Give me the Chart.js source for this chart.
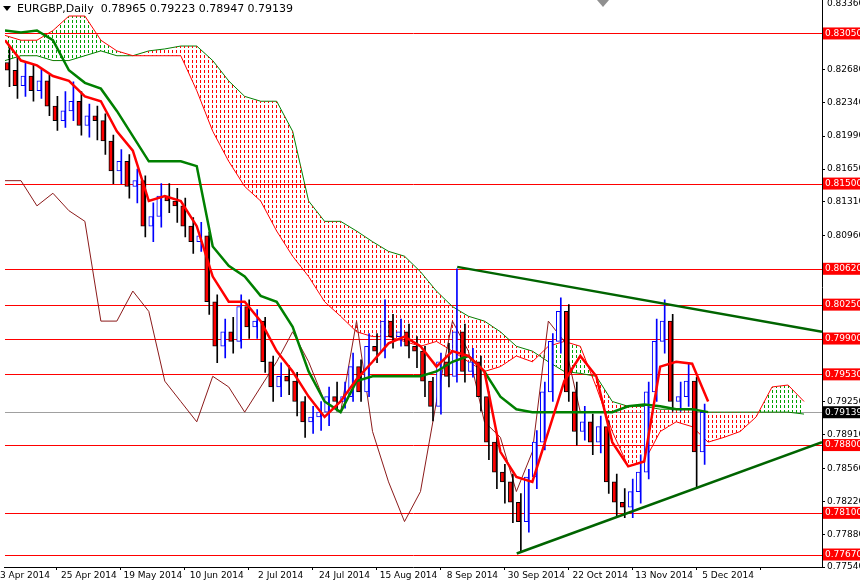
<!DOCTYPE html>
<html>
<head>
<meta charset="utf-8">
<script src="https://cdn.jsdelivr.net/npm/chart.js@4.4.1/dist/chart.umd.min.js"></script>
<style>
  html, body { margin: 0; padding: 0; background: #fff; }
  #wrap { width: 860px; height: 585px; }
</style>
</head>
<body>
<div id="wrap"><canvas id="chart" width="860" height="585"></canvas></div>
<script>
// EURGBP daily, candles every 2nd bar starting at bar -4 (bar 0 = 3 Apr 2014)
const opens = [.8275,.8267,.8251,.8261,.8246,.8256,.8230,.8215,.8225,.8235,.8210,.8220,.8215,.8194,.8163,.8173,.8147,.8153,.8106,.8116,.8137,.8132,.8127,.8106,.8090,.8096,.8028,.7982,.7997,.7987,.8023,.8002,.8008,.7966,.7940,.7951,.7946,.7925,.7904,.7909,.7914,.7930,.7925,.7930,.7961,.7935,.7982,.7977,.8008,.7992,.7997,.7982,.7977,.7946,.7920,.7966,.7951,.7997,.7956,.7966,.7930,.7883,.7852,.7842,.7821,.7801,.7847,.7883,.7935,.7987,.8018,.7935,.7894,.7904,.7883,.7899,.7842,.7821,.7816,.7832,.7852,.7935,.7987,.8008,.7925,.7930,.7946,.7873];
const closes = [.8267,.8251,.8261,.8246,.8256,.8230,.8215,.8225,.8235,.8210,.8220,.8215,.8194,.8163,.8173,.8147,.8153,.8106,.8116,.8137,.8132,.8127,.8106,.8090,.8096,.8028,.7982,.7997,.7987,.8023,.8002,.8008,.7966,.7940,.7951,.7946,.7925,.7904,.7909,.7914,.7930,.7925,.7930,.7961,.7935,.7982,.7977,.8008,.7992,.7997,.7982,.7977,.7946,.7920,.7966,.7951,.7997,.7956,.7966,.7930,.7883,.7852,.7842,.7821,.7801,.7847,.7883,.7935,.7987,.8018,.7935,.7894,.7904,.7883,.7899,.7842,.7821,.7816,.7832,.7852,.7935,.7987,.8008,.7925,.7930,.7946,.7873,.79139];
const highs = [.8290,.8280,.8275,.8272,.8268,.8262,.8240,.8245,.8255,.8245,.8232,.8230,.8222,.8200,.8185,.8180,.8165,.8158,.8130,.8150,.8150,.8145,.8135,.8115,.8110,.8100,.8035,.8010,.8012,.8035,.8030,.8020,.8012,.7972,.7965,.7962,.7955,.7930,.7920,.7925,.7940,.7945,.7945,.7975,.7968,.7995,.7995,.8030,.8015,.8010,.8005,.7992,.7982,.7950,.7975,.7985,.8062,.8005,.7980,.7972,.7935,.7890,.7860,.7850,.7830,.7855,.7895,.7945,.7995,.8032,.8025,.7945,.7920,.7912,.7910,.7905,.7850,.7835,.7845,.7870,.7945,.8010,.8030,.8015,.7945,.7965,.7950,.79223];
const lows = [.8250,.8238,.8240,.8235,.8238,.8220,.8205,.8208,.8215,.8200,.8198,.8195,.8180,.8150,.8150,.8135,.8130,.8095,.8090,.8105,.8120,.8110,.8095,.8078,.8080,.8015,.7965,.7970,.7975,.7980,.7990,.7990,.7955,.7925,.7930,.7932,.7910,.7888,.7892,.7895,.7900,.7915,.7918,.7925,.7925,.7930,.7965,.7970,.7980,.7982,.7970,.7960,.7930,.7905,.7912,.7940,.7945,.7945,.7950,.7915,.7865,.7835,.7820,.7800,.7770,.7790,.7835,.7875,.7925,.7975,.7925,.7880,.7885,.7870,.7872,.7830,.7805,.7805,.7805,.7820,.7845,.7925,.7975,.7915,.7915,.7920,.7835,.7860];

// Lines sampled every 4 bars starting at bar -5
const tenkan = [.8298,.8277,.8272,.8261,.8256,.8240,.8235,.8204,.8184,.8132,.8137,.8132,.8106,.8054,.8028,.8028,.8008,.7977,.7956,.7930,.7909,.7925,.7948,.7966,.7985,.7992,.7982,.7961,.7977,.7972,.7956,.7873,.7847,.7842,.7894,.7946,.7972,.7951,.7883,.7858,.7863,.7961,.7966,.7964,.7925];
const kijun = [.8308,.8306,.8308,.8298,.8267,.8254,.8248,.8225,.8199,.8173,.8173,.8173,.8168,.8085,.8065,.8054,.8034,.8028,.8002,.7956,.7925,.7914,.7946,.7951,.7951,.7951,.7951,.7956,.7966,.7972,.7956,.7930,.7917,.7914,.7914,.7914,.7914,.7914,.7914,.7920,.7922,.7920,.7917,.7917,.7914];
const chikou = [.8153,.8153,.8127,.8140,.8122,.8111,.8008,.8008,.8039,.8018,.7946,.7925,.7904,.7951,.7940,.7914,.7940,.7966,.7997,.7966,.7925,.7914,.8008,.7894,.7842,.7801,.7832,.7925,.8008,.7977,.7904,.7888,.7832,.7873,.8008,.7987,.7914,.7914];
const spanA = [.8303,.8298,.8298,.8308,.8323,.8323,.8298,.8287,.8282,.8282,.8282,.8282,.8246,.8204,.8173,.8147,.8132,.8101,.8075,.8054,.8028,.8013,.7997,.7992,.7992,.7987,.7982,.7987,.7977,.7966,.7956,.7961,.7972,.7966,.7982,.7987,.7982,.7940,.7894,.7858,.7863,.7894,.7904,.7899,.7883,.7888,.7894,.7909,.7940,.7942,.7925];
const spanB = [.8277,.8282,.8282,.8277,.8277,.8282,.8287,.8282,.8282,.8287,.8289,.8292,.8292,.8277,.8256,.8240,.8235,.8235,.8204,.8132,.8111,.8111,.8101,.8090,.8080,.8075,.8059,.8039,.8023,.8013,.8008,.7997,.7982,.7977,.7966,.7956,.7954,.7951,.7925,.7920,.7920,.7917,.7917,.7917,.7914,.7914,.7914,.7914,.7914,.7914,.7912];

// Trend lines [bar, price]
const upperTrend = [[108.2, .8064], [199.5, .7997]];
const lowerTrend = [[123.1, .7768], [199.5, .7883]];

const dateLabels = ['3 Apr 2014','25 Apr 2014','19 May 2014','10 Jun 2014','2 Jul 2014','24 Jul 2014','15 Aug 2014','8 Sep 2014','30 Sep 2014','22 Oct 2014','13 Nov 2014','5 Dec 2014'];
const priceTicks = [.8268,.8234,.8199,.8165,.8131,.8096,.7925,.7891,.7856,.7822,.7788,.7754];
const topPrice = .8336;
const levels = [.8305,.8150,.8062,.8025,.7990,.7953,.7880,.7810,.7767];
const lastPrice = .79139;

const candleBars = closes.map((c, k) => ({ x: -4 + 2 * k, y: [opens[k], c] }));
const wickBars = closes.map((c, k) => ({ x: -4 + 2 * k, y: [lows[k], highs[k]] }));
const every4 = (arr, start) => arr.map((v, k) => ({ x: start + 4 * k, y: v }));
const up = k => closes[k] >= opens[k];

function dotPattern(color) {
    const c = document.createElement('canvas');
    c.width = 4; c.height = 5;
    const g = c.getContext('2d');
    g.fillStyle = color;
    g.fillRect(0, 0, 1, 3);
    return g.createPattern(c, 'repeat');
}

const overlay = {
    id: 'overlay',
    beforeDatasetsDraw(chart) {
        const { ctx, chartArea: a, scales: { y } } = chart;
        ctx.save();
        ctx.lineWidth = 1;
        ctx.strokeStyle = '#ff0000';
        levels.forEach(l => {
            const py = Math.round(y.getPixelForValue(l)) + 0.5;
            ctx.beginPath(); ctx.moveTo(a.left, py); ctx.lineTo(a.right, py); ctx.stroke();
        });
        ctx.strokeStyle = '#a0a0a0';
        const lp = Math.round(y.getPixelForValue(lastPrice)) + 0.5;
        ctx.beginPath(); ctx.moveTo(a.left, lp); ctx.lineTo(a.right, lp); ctx.stroke();
        ctx.restore();
    },
    afterDraw(chart) {
        const { ctx, chartArea: a, scales: { y } } = chart;
        ctx.save();
        ctx.font = '9px "DejaVu Sans"';
        ctx.textBaseline = 'middle';
        ctx.fillStyle = '#000';
        ctx.fillText(topPrice.toFixed(5), a.right + 5, 4);
        ctx.fillRect(a.right, 0, 1, a.top);
        const box = (v, bg) => {
            const py = y.getPixelForValue(v);
            ctx.fillStyle = bg;
            ctx.fillRect(a.right + 1, py - 6, 40, 12);
            ctx.fillStyle = '#fff';
            ctx.fillText(v.toFixed(5), a.right + 3, py);
        };
        levels.forEach(l => box(l, '#ff0000'));
        box(lastPrice, '#000');
        ctx.fillStyle = '#000';
        ctx.font = '11px "DejaVu Sans"';
        ctx.fillText('EURGBP,Daily  0.78965 0.79223 0.78947 0.79139', 17, 9);
        ctx.beginPath(); ctx.moveTo(3, 6); ctx.lineTo(11, 6); ctx.lineTo(7, 11); ctx.fill();
        ctx.fillStyle = '#909090';
        ctx.beginPath(); ctx.moveTo(597, 0); ctx.lineTo(609, 0); ctx.lineTo(603, 7); ctx.fill();
        ctx.restore();
    }
};

new Chart(document.getElementById('chart'), {
    type: 'bar',
    data: {
        datasets: [{
            type: 'line', label: 'Tenkan', data: every4(tenkan, -5),
            borderColor: '#ff0000', borderWidth: 2.5, pointRadius: 0, order: 0
        }, {
            type: 'line', label: 'Kijun', data: every4(kijun, -5),
            borderColor: '#008000', borderWidth: 2.5, pointRadius: 0, order: 0
        }, {
            type: 'line', label: 'Chikou', data: every4(chikou, -5),
            borderColor: '#8b1a1a', borderWidth: 1, pointRadius: 0, order: 3
        }, {
            label: 'Wicks', data: wickBars, barThickness: 1,
            backgroundColor: c => up(c.dataIndex) ? '#0000ff' : '#000',
            order: 2
        }, {
            label: 'Bodies', data: candleBars, barThickness: 4,
            backgroundColor: c => up(c.dataIndex) ? '#fff' : '#ff0000',
            borderColor: c => up(c.dataIndex) ? '#0000ff' : '#000',
            borderWidth: 1, borderSkipped: false, order: 1
        }, {
            type: 'line', label: 'Span A', data: every4(spanA, -5),
            borderColor: '#ff0000', borderWidth: 1, pointRadius: 0, order: 5,
            fill: { target: '+1', above: dotPattern('#00a000'), below: dotPattern('#ff0000') }
        }, {
            type: 'line', label: 'Span B', data: every4(spanB, -5),
            borderColor: '#008000', borderWidth: 1, pointRadius: 0, order: 6
        }, {
            type: 'line', label: 'Upper', data: upperTrend.map(p => ({ x: p[0], y: p[1] })),
            borderColor: '#006400', borderWidth: 2.5, pointRadius: 0, order: 0
        }, {
            type: 'line', label: 'Lower', data: lowerTrend.map(p => ({ x: p[0], y: p[1] })),
            borderColor: '#006400', borderWidth: 2.5, pointRadius: 0, order: 0
        }]
    },
    options: {
        responsive: false,
        animation: false,
        layout: { padding: 0 },
        plugins: { legend: { display: false }, tooltip: { enabled: false } },
        scales: {
            x: {
                type: 'linear', min: -5, max: 199.5, offset: false,
                afterBuildTicks: s => { s.ticks = dateLabels.map((_, k) => ({ value: 16 * k })); },
                afterFit: s => { s.height = 18; },
                ticks: {
                    autoSkip: false, maxRotation: 0, padding: 0, color: '#000',
                    font: { family: 'DejaVu Sans', size: 9 },
                    callback: (v) => dateLabels[Math.round(v / 16)]
                },
                grid: { drawOnChartArea: false, tickLength: 3, color: '#000' },
                border: { color: '#000' }
            },
            y: {
                position: 'right', min: 0.77541, max: 0.83319,
                afterBuildTicks: s => { s.ticks = priceTicks.map(v => ({ value: v })); },
                afterFit: s => { s.width = 38; },
                ticks: {
                    padding: 2, color: '#000', font: { family: 'DejaVu Sans', size: 9 },
                    callback: v => v.toFixed(5)
                },
                grid: { drawOnChartArea: false, tickLength: 3, color: '#000' },
                border: { color: '#000' }
            }
        }
    },
    plugins: [overlay]
});
</script>
</body>
</html>
